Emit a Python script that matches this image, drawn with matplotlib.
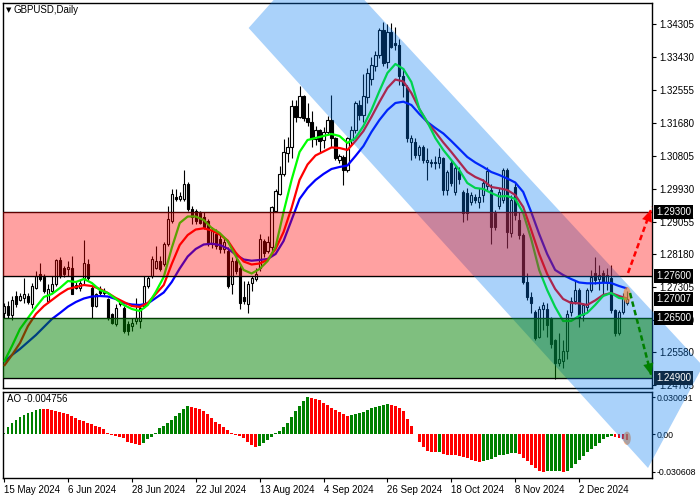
import matplotlib
matplotlib.use("Agg")
import matplotlib.pyplot as plt
import numpy as np
from matplotlib.patches import Polygon, Ellipse
from matplotlib.transforms import blended_transform_factory

plt.rcParams['font.family'] = ['Liberation Sans', 'DejaVu Sans']

# ---------------- data (GBPUSD daily, one row per bar) ----------------
opens = [1.2662, 1.2681, 1.2658, 1.2707, 1.2698, 1.2703, 1.2707, 1.2685, 1.2730, 1.2765,
         1.2757, 1.2694, 1.2721, 1.2739, 1.2803, 1.2783, 1.2779, 1.2783, 1.2738, 1.2729,
         1.2756, 1.2792, 1.2730, 1.2681, 1.2725, 1.2716, 1.2699, 1.2659, 1.2632, 1.2685,
         1.2676, 1.2634, 1.2627, 1.2641, 1.2641, 1.2681, 1.2734, 1.2761, 1.2783, 1.2801,
         1.2792, 1.2845, 1.2908, 1.2970, 1.2966, 1.2966, 1.3006, 1.2939, 1.2934, 1.2930,
         1.2917, 1.2908, 1.2845, 1.2872, 1.2859, 1.2832, 1.2828, 1.2740, 1.2801, 1.2783,
         1.2705, 1.2685, 1.2743, 1.2752, 1.2783, 1.2854, 1.2828, 1.2837, 1.2934, 1.2979,
         1.3032, 1.3088, 1.3105, 1.3214, 1.3184, 1.3240, 1.3182, 1.3170, 1.3125, 1.3150,
         1.3122, 1.3145, 1.3176, 1.3127, 1.3070, 1.3078, 1.3043, 1.3122, 1.3149, 1.3215,
         1.3190, 1.3238, 1.3286, 1.3318, 1.3349, 1.3415, 1.3330, 1.3410, 1.3380, 1.3375,
         1.3292, 1.3264, 1.3118, 1.3118, 1.3082, 1.3105, 1.3065, 1.3065, 1.3065, 1.3060,
         1.3074, 1.2989, 1.3060, 1.2985, 1.3040, 1.2985, 1.2981, 1.2958, 1.2972, 1.2958,
         1.2975, 1.3000, 1.2990, 1.2927, 1.2948, 1.2963, 1.3043, 1.2874, 1.2998, 1.2910,
         1.2870, 1.2745, 1.2705, 1.2666, 1.2599, 1.2674, 1.2674, 1.2648, 1.2590, 1.2530,
         1.2534, 1.2560, 1.2665, 1.2695, 1.2723, 1.2656, 1.2679, 1.2723, 1.2768, 1.2754,
         1.2768, 1.2746, 1.2755, 1.2670, 1.2608, 1.2666, 1.2688]
highs = [1.2688, 1.2694, 1.2707, 1.2721, 1.2716, 1.2756, 1.2716, 1.2743, 1.2774, 1.2796,
         1.2765, 1.2739, 1.2761, 1.2805, 1.2810, 1.2787, 1.2801, 1.2814, 1.2745, 1.2750,
         1.2856, 1.2805, 1.2734, 1.2716, 1.2734, 1.2730, 1.2703, 1.2663, 1.2685, 1.2698,
         1.2681, 1.2641, 1.2650, 1.2703, 1.2681, 1.2761, 1.2761, 1.2814, 1.2841, 1.2814,
         1.2850, 1.2948, 1.2992, 1.2992, 1.2983, 1.3044, 1.3010, 1.2948, 1.2939, 1.2934,
         1.2930, 1.2912, 1.2890, 1.2885, 1.2876, 1.2863, 1.2837, 1.2810, 1.2823, 1.2792,
         1.2748, 1.2748, 1.2761, 1.2783, 1.2872, 1.2859, 1.2868, 1.2948, 1.2992, 1.3054,
         1.3126, 1.3130, 1.3230, 1.3230, 1.3266, 1.3243, 1.3220, 1.3200, 1.3160, 1.3153,
         1.3158, 1.3185, 1.3242, 1.3130, 1.3085, 1.3082, 1.3131, 1.3160, 1.3227, 1.3230,
         1.3297, 1.3314, 1.3343, 1.3360, 1.3420, 1.3437, 1.3430, 1.3434, 1.3424, 1.3390,
         1.3315, 1.3269, 1.3136, 1.3127, 1.3110, 1.3109, 1.3100, 1.3072, 1.3080, 1.3100,
         1.3078, 1.3043, 1.3070, 1.3055, 1.3050, 1.2989, 1.2994, 1.2985, 1.2980, 1.2994,
         1.3020, 1.3050, 1.3005, 1.2936, 1.2995, 1.3047, 1.3047, 1.2975, 1.3007, 1.2930,
         1.2875, 1.2768, 1.2718, 1.2670, 1.2680, 1.2692, 1.2688, 1.2652, 1.2594, 1.2610,
         1.2590, 1.2670, 1.2705, 1.2750, 1.2730, 1.2690, 1.2730, 1.2777, 1.2812, 1.2790,
         1.2777, 1.2781, 1.2790, 1.2674, 1.2670, 1.2715, 1.2722]
lows = [1.2650, 1.2650, 1.2645, 1.2677, 1.2694, 1.2690, 1.2685, 1.2676, 1.2725, 1.2748,
        1.2716, 1.2690, 1.2716, 1.2734, 1.2756, 1.2757, 1.2761, 1.2712, 1.2725, 1.2722,
        1.2738, 1.2747, 1.2650, 1.2677, 1.2707, 1.2710, 1.2645, 1.2632, 1.2627, 1.2680,
        1.2610, 1.2605, 1.2614, 1.2632, 1.2623, 1.2676, 1.2730, 1.2756, 1.2779, 1.2774,
        1.2788, 1.2841, 1.2903, 1.2961, 1.2961, 1.2961, 1.2934, 1.2899, 1.2899, 1.2899,
        1.2885, 1.2841, 1.2836, 1.2832, 1.2823, 1.2823, 1.2730, 1.2712, 1.2765, 1.2672,
        1.2685, 1.2663, 1.2721, 1.2748, 1.2774, 1.2810, 1.2823, 1.2823, 1.2930, 1.2975,
        1.3028, 1.3065, 1.3075, 1.3170, 1.3180, 1.3174, 1.3160, 1.3103, 1.3110, 1.3087,
        1.3100, 1.3135, 1.3105, 1.3068, 1.3062, 1.3003, 1.3038, 1.3110, 1.3140, 1.3175,
        1.3170, 1.3220, 1.3270, 1.3305, 1.3340, 1.3318, 1.3315, 1.3366, 1.3362, 1.3270,
        1.3238, 1.3118, 1.3069, 1.3074, 1.3070, 1.3060, 1.3016, 1.3050, 1.3045, 1.3047,
        1.2976, 1.2975, 1.3000, 1.2975, 1.3005, 1.2905, 1.2910, 1.2950, 1.2955, 1.2941,
        1.2958, 1.2990, 1.2845, 1.2883, 1.2940, 1.2955, 1.2835, 1.2865, 1.2910, 1.2860,
        1.2740, 1.2697, 1.2661, 1.2590, 1.2595, 1.2617, 1.2599, 1.2570, 1.2487, 1.2520,
        1.2515, 1.2540, 1.2655, 1.2685, 1.2626, 1.2640, 1.2665, 1.2719, 1.2740, 1.2723,
        1.2714, 1.2723, 1.2662, 1.2600, 1.2604, 1.2660, 1.2683]
closes = [1.2680, 1.2658, 1.2696, 1.2685, 1.2707, 1.2712, 1.2692, 1.2734, 1.2761, 1.2752,
          1.2721, 1.2725, 1.2739, 1.2803, 1.2761, 1.2765, 1.2785, 1.2712, 1.2729, 1.2741,
          1.2794, 1.2756, 1.2681, 1.2712, 1.2716, 1.2721, 1.2650, 1.2636, 1.2676, 1.2694,
          1.2614, 1.2614, 1.2636, 1.2650, 1.2676, 1.2734, 1.2756, 1.2805, 1.2801, 1.2779,
          1.2845, 1.2912, 1.2979, 1.2966, 1.2974, 1.3006, 1.2939, 1.2917, 1.2908, 1.2903,
          1.2890, 1.2845, 1.2881, 1.2841, 1.2832, 1.2850, 1.2734, 1.2801, 1.2775, 1.2690,
          1.2694, 1.2739, 1.2756, 1.2765, 1.2859, 1.2823, 1.2850, 1.2943, 1.2988, 1.3032,
          1.3090, 1.3105, 1.3214, 1.3184, 1.3240, 1.3182, 1.3170, 1.3125, 1.3150, 1.3120,
          1.3145, 1.3176, 1.3127, 1.3074, 1.3080, 1.3043, 1.3127, 1.3149, 1.3220, 1.3190,
          1.3240, 1.3300, 1.3322, 1.3349, 1.3415, 1.3326, 1.3410, 1.3371, 1.3375, 1.3292,
          1.3270, 1.3127, 1.3127, 1.3082, 1.3105, 1.3069, 1.3069, 1.3062, 1.3060, 1.3078,
          1.2989, 1.3038, 1.3007, 1.3047, 1.3020, 1.2927, 1.2927, 1.2976, 1.2963, 1.2972,
          1.3007, 1.3040, 1.2890, 1.2890, 1.2985, 1.3043, 1.2879, 1.2963, 1.2923, 1.2870,
          1.2745, 1.2705, 1.2688, 1.2595, 1.2674, 1.2683, 1.2630, 1.2581, 1.2528, 1.2540,
          1.2560, 1.2660, 1.2695, 1.2723, 1.2650, 1.2683, 1.2723, 1.2759, 1.2750, 1.2763,
          1.2746, 1.2763, 1.2670, 1.2608, 1.2666, 1.2706, 1.27007]

# moving averages read every second bar
ma_x = list(range(0, 157, 2))
ma_green = [1.25320, 1.25745, 1.26198, 1.26490, 1.26783, 1.27049, 1.27129, 1.27288, 1.27474, 1.27448,
            1.27528, 1.27421, 1.27235, 1.27155, 1.26996, 1.26836, 1.26730, 1.26676, 1.26836, 1.27182,
            1.27581, 1.28352, 1.29017, 1.29190, 1.29190, 1.29097, 1.28884, 1.28751, 1.28538, 1.28139,
            1.27767, 1.27674, 1.27794, 1.28006, 1.28379, 1.29310, 1.30161, 1.30906, 1.31225, 1.31278,
            1.31331, 1.31385, 1.31331, 1.31145, 1.31278, 1.31597, 1.32023, 1.32528, 1.33007, 1.33247,
            1.33114, 1.32768, 1.32050, 1.31704, 1.31278, 1.30959, 1.30693, 1.30427, 1.30081, 1.29948,
            1.29922, 1.29815, 1.29722, 1.29735, 1.29656, 1.29283, 1.28592, 1.27767, 1.27235, 1.26783,
            1.26410, 1.26410, 1.26543, 1.26623, 1.26836, 1.27075, 1.27155, 1.27022, 1.26996]
ma_red = [1.25213, 1.25506, 1.25825, 1.26277, 1.26597, 1.26809, 1.26969, 1.27129, 1.27262, 1.27315,
          1.27368, 1.27341, 1.27262, 1.27155, 1.27022, 1.26916, 1.26809, 1.26783, 1.26889, 1.27129,
          1.27368, 1.27927, 1.28432, 1.28698, 1.28844, 1.28876, 1.28818, 1.28711, 1.28552, 1.28233,
          1.27993, 1.27913, 1.27940, 1.28033, 1.28326, 1.28778, 1.29416, 1.30161, 1.30573, 1.30813,
          1.30919, 1.31026, 1.31012, 1.30959, 1.31198, 1.31464, 1.31837, 1.32236, 1.32608, 1.32834,
          1.32781, 1.32475, 1.32050, 1.31690, 1.31438, 1.31158, 1.30906, 1.30640, 1.30374, 1.30241,
          1.30148, 1.29975, 1.29940, 1.29895, 1.29762, 1.29443, 1.28831, 1.28193, 1.27661, 1.27262,
          1.26996, 1.26889, 1.26881, 1.26836, 1.26956, 1.27102, 1.27155, 1.27075, 1.27009]
ma_blue = [1.25320, 1.25506, 1.25666, 1.25852, 1.26038, 1.26251, 1.26464, 1.26623, 1.26791, 1.26916,
           1.27009, 1.27062, 1.27075, 1.27062, 1.26996, 1.26889, 1.26849, 1.26836, 1.26876, 1.27022,
           1.27169, 1.27448, 1.27807, 1.28126, 1.28326, 1.28445, 1.28467, 1.28432, 1.28339, 1.28179,
           1.28046, 1.28014, 1.28033, 1.28060, 1.28193, 1.28538, 1.29097, 1.29656, 1.29948, 1.30161,
           1.30321, 1.30454, 1.30507, 1.30547, 1.30799, 1.31065, 1.31438, 1.31757, 1.32023, 1.32209,
           1.32244, 1.32156, 1.31917, 1.31704, 1.31544, 1.31398, 1.31198, 1.30986, 1.30773, 1.30627,
           1.30507, 1.30374, 1.30294, 1.30201, 1.30095, 1.29842, 1.29310, 1.28725, 1.28193, 1.27767,
           1.27634, 1.27528, 1.27435, 1.27413, 1.27413, 1.27429, 1.27421, 1.27341, 1.27275]

# Awesome Oscillator, one value per bar
ao = [0.0010, 0.0055, 0.0090, 0.0118, 0.0138, 0.0155, 0.0170, 0.0183, 0.0195, 0.0205,
      0.0203, 0.0200, 0.0196, 0.0190, 0.0183, 0.0172, 0.0160, 0.0146, 0.0130, 0.0115,
      0.0103, 0.0093, 0.0083, 0.0068, 0.0061, 0.0039, 0.0007, -0.0003, -0.0015, -0.0020,
      -0.0033, -0.0060, -0.0074, -0.0079, -0.0087, -0.0069, -0.0042, -0.0020, 0.0007, 0.0048,
      0.0066, 0.0088, 0.0115, 0.0145, 0.0172, 0.0200, 0.0225, 0.0222, 0.0215, 0.0203,
      0.0185, 0.0160, 0.0130, 0.0100, 0.0083, 0.0061, 0.0034, 0.0012, -0.0006, -0.0015,
      -0.0028, -0.0060, -0.0087, -0.0101, -0.0096, -0.0074, -0.0047, -0.0020, 0.0007, 0.0022,
      0.0061, 0.0093, 0.0140, 0.0185, 0.0230, 0.0270, 0.0301, 0.0296, 0.0287, 0.0273,
      0.0255, 0.0235, 0.0215, 0.0195, 0.0178, 0.0163, 0.0150, 0.0153, 0.0160, 0.0170,
      0.0182, 0.0195, 0.0208, 0.0220, 0.0231, 0.0238, 0.0242, 0.0238, 0.0228, 0.0210,
      0.0185, 0.0125, 0.0065, 0.0005, -0.0060, -0.0105, -0.0135, -0.0143, -0.0148, -0.0146,
      -0.0160, -0.0165, -0.0168, -0.0172, -0.0180, -0.0188, -0.0196, -0.0205, -0.0215, -0.0222,
      -0.0215, -0.0208, -0.0198, -0.0185, -0.0172, -0.0165, -0.0160, -0.0155, -0.0150, -0.0162,
      -0.0190, -0.0218, -0.0247, -0.0275, -0.0295, -0.0304, -0.0302, -0.0301, -0.0300, -0.0299,
      -0.0306, -0.0298, -0.0272, -0.0240, -0.0205, -0.0175, -0.0148, -0.0122, -0.0095, -0.0068,
      -0.0042, -0.0024, -0.0016, -0.0023, -0.0031, -0.0040, -0.004756]

# levels / zones / analyst drawings
resistance_zone = (1.2760, 1.2930)
support_zone = (1.2490, 1.2650)
level_lines = [1.2930, 1.2760, 1.2650, 1.2490]
channel_x = [61.25, 78.68, 175.0, 161.25]
channel_y = [1.34204, 1.36279, 1.25213, 1.22500]
arrow_up_x = [156.25, 162.25]
arrow_up_y = [1.27687, 1.29443]
arrow_down_x = [156.75, 162.25]
arrow_down_y = [1.27155, 1.24894]

# axis labels
price_ticks = [1.34305, 1.33430, 1.32555, 1.31680, 1.30805, 1.29930, 1.29055,
               1.28180, 1.27305, 1.26430, 1.25580, 1.24705]
box_values = [1.2930, 1.2760, 1.27007, 1.2650, 1.2490]
box_texts = ['1.29300', '1.27600', '1.27007', '1.26500', '1.24900']
box_colors = ['black', 'black', 'black', 'black', '#0c2a48']
ao_ticks = [0.030091, 0.0, -0.030608]
ao_tick_labels = ['0.030091', '0.00', '-0.030608']
date_pos = [0, 16, 32, 48, 64, 80, 96, 112, 128, 144]
date_labels = ['15 May 2024', '6 Jun 2024', '28 Jun 2024', '22 Jul 2024', '13 Aug 2024',
               '4 Sep 2024', '26 Sep 2024', '18 Oct 2024', '8 Nov 2024', '2 Dec 2024']

# ---------------- figure ----------------
W, H = 700, 500
fig = plt.figure(figsize=(7, 5), dpi=100)
fig.patch.set_facecolor('white')


def rect(l, t, r, b):
    return [l / W, 1 - b / H, (r - l) / W, (b - t) / H]


ax = fig.add_axes(rect(3, 3, 652, 388))
ax2 = fig.add_axes(rect(3, 392, 652, 478))
ax.set_zorder(2)
ax2.set_zorder(1)

x = np.arange(len(opens))
o = np.array(opens); h = np.array(highs); l = np.array(lows); c = np.array(closes)
up = c >= o

# candles
ax.vlines(x, l, h, color='black', lw=0.8, zorder=2)
lo = np.minimum(o, c)
bh = np.maximum(np.abs(c - o), 0.00008)
ax.bar(x[up], bh[up], bottom=lo[up], width=0.55, facecolor='white',
       edgecolor='black', lw=0.8, zorder=2.2)
ax.bar(x[~up], bh[~up], bottom=lo[~up], width=0.55, facecolor='black',
       edgecolor='black', lw=0.8, zorder=2.2)

# moving averages
ax.plot(ma_x, ma_blue, color='#0000ff', lw=1.6, zorder=2.5, solid_capstyle='butt')
ax.plot(ma_x, ma_red, color='#ff0000', lw=1.6, zorder=2.6, solid_capstyle='butt')
ax.plot(ma_x, ma_green, color='#00ff00', lw=1.6, zorder=2.7, solid_capstyle='butt')

# horizontal levels
for lv in level_lines:
    ax.axhline(lv, color='black', lw=1.0, zorder=2.8)

# descending channel (semi-transparent, over price and indicator panels)
chan = Polygon(list(zip(channel_x, channel_y)), closed=True,
               facecolor=(0, 120 / 255, 240 / 255), alpha=0.333, edgecolor='none',
               zorder=4, clip_on=False, transform=ax.transData)
ax.add_patch(chan)

# zones
ax.axhspan(*resistance_zone, color=(1, 0, 0), alpha=0.37, lw=0, zorder=5)
ax.axhspan(*support_zone, color=(0, 0.5, 0), alpha=0.5, lw=0, zorder=5)

# last candle highlight
ax.add_patch(Ellipse((x[-1], closes[-1] + 0.0009), 1.9, 0.0044,
                     facecolor=(1, 0.51, 0.16), alpha=0.6, edgecolor='none', zorder=6))

# dashed scenario arrows
for ax_, ay_, col in [(arrow_up_x, arrow_up_y, '#ff0000'), (arrow_down_x, arrow_down_y, '#008000')]:
    ax.plot(ax_, ay_, color=col, lw=1.8, dashes=(2.2, 1.3), zorder=7, clip_on=False)
    ax.annotate('', xy=(ax_[1], ay_[1]),
                xytext=(ax_[1] - (ax_[1] - ax_[0]) * 0.25, ay_[1] - (ay_[1] - ay_[0]) * 0.25),
                arrowprops=dict(arrowstyle='-|>,head_length=0.7,head_width=0.3',
                                color=col, lw=0.1, mutation_scale=12),
                annotation_clip=False, zorder=7)

ax.set_xlim(-0.25, 162.25)
ax.set_ylim(1.24628, 1.34869)

# price axis
ax.yaxis.tick_right()
ax.set_yticks(price_ticks)
ax.set_yticklabels([f'{v:.5f}' for v in price_ticks])
ax.tick_params(axis='y', direction='out', length=3, width=0.8, pad=2, labelsize=7, colors='black')
ax.tick_params(axis='x', bottom=False, labelbottom=False, top=False)
for s in ax.spines.values():
    s.set_color('black'); s.set_linewidth(1.0)

trans = blended_transform_factory(ax.transAxes, ax.transData)
for v, t, fc in zip(box_values, box_texts, box_colors):
    ax.text(1.0065, v, t, transform=trans, ha='left', va='center', fontsize=7,
            color='white', zorder=10, clip_on=False,
            bbox=dict(boxstyle='square,pad=0.2', fc=fc, ec='none'))

# ---------------- AO panel ----------------
ao_arr = np.array(ao)
prev = np.concatenate([[ao_arr[0] - 1], ao_arr[:-1]])
cols = np.where(ao_arr > prev, '#008000', '#ff0000')
ax2.bar(x, ao_arr, width=0.72, color=cols, zorder=2)
ax2.add_patch(Ellipse((x[-1], ao[-1] * 0.7), 1.9, 0.0108,
                      facecolor=(1, 0.51, 0.16), alpha=0.6, edgecolor='none', zorder=3))
ax2.set_xlim(-0.25, 162.25)
ax2.set_ylim(-0.035464, 0.034138)
ax2.yaxis.tick_right()
ax2.set_yticks(ao_ticks)
ax2.set_yticklabels(ao_tick_labels)
ax2.tick_params(axis='y', direction='out', length=2, width=0.8, pad=1, labelsize=6.3)
ax2.set_xticks(date_pos)
ax2.set_xticklabels(date_labels)
ax2.tick_params(axis='x', direction='out', length=3, width=0.8, pad=2, labelsize=7)
for lab in ax2.get_xticklabels():
    lab.set_ha('left')
for s in ax2.spines.values():
    s.set_color('black'); s.set_linewidth(1.0)

# captions
fig.text(6 / W, 1 - 10 / H, '▼', fontsize=5, va='center', ha='left', family='DejaVu Sans')
fig.text(14 / W, 1 - 10 / H, 'GBPUSD,Daily', fontsize=7, va='center', ha='left')
fig.text(7 / W, 1 - 399 / H, 'AO -0.004756', fontsize=7, va='center', ha='left')

fig.savefig('out.png', dpi=100)
